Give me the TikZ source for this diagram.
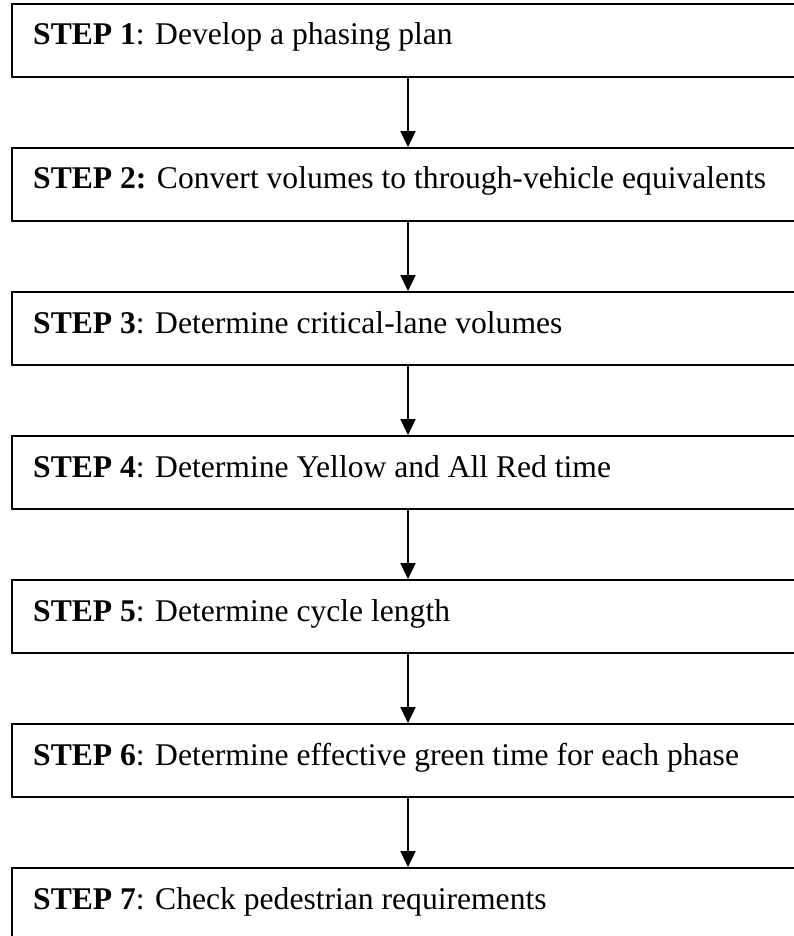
\documentclass[tikz,border=0pt]{standalone}
\usepackage{fontspec}
\setmainfont{Liberation Serif}
\usetikzlibrary{arrows.meta}
\begin{document}
\begin{tikzpicture}[x=1pt,y=-1pt,
  stepbox/.style={draw=black,line width=1.8pt,rectangle,inner sep=0pt,
    minimum width=788pt,minimum height=73pt},
  steptext/.style={anchor=base west,inner sep=0pt,
    font=\fontsize{31.6}{38}\selectfont},
  flow/.style={line width=1.8pt,-{Triangle[width=15pt,length=16pt]}}]
\useasboundingbox (0,0) rectangle (793,936);
% boxes: tops every 144pt, height 73pt
\foreach \k in {1,...,7}{
  \node[stepbox] (b\k) at (406,{40.5+144*(\k-1)}) {};
}
\node[steptext] (t1) at (33,45) {\textbf{STEP 1}: Develop a phasing plan};
\node[steptext] (t2) at (33,189) {\textbf{STEP 2:} Convert volumes to through-vehicle equivalents};
\node[steptext] (t3) at (33,333) {\textbf{STEP 3}: Determine critical-lane volumes};
\node[steptext] (t4) at (33,477) {\textbf{STEP 4}: Determine Yellow and All Red time};
\node[steptext] (t5) at (33,621) {\textbf{STEP 5}: Determine cycle length};
\node[steptext] (t6) at (33,765) {\textbf{STEP 6}: Determine effective green time for each phase};
\node[steptext] (t7) at (33,909) {\textbf{STEP 7}: Check pedestrian requirements};
% connectors
\coordinate (ax) at (408,0);
\foreach \a/\b in {1/2,2/3,3/4,4/5,5/6,6/7}{
  \draw[flow] (b\a.south -| ax) -- (b\b.north -| ax);
}
\end{tikzpicture}
\end{document}
